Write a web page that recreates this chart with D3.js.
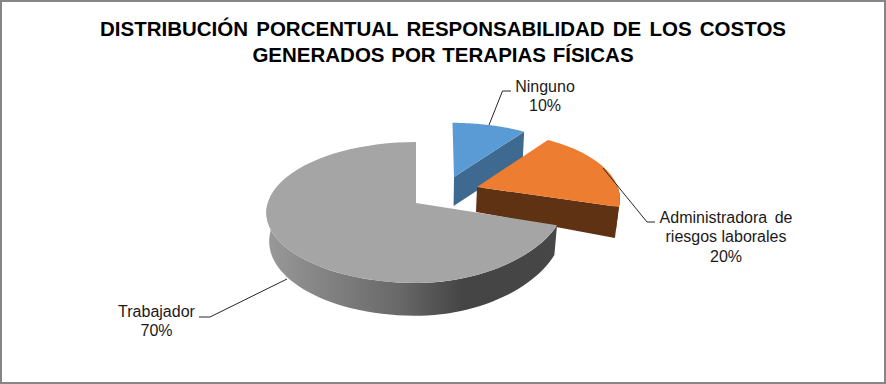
<!DOCTYPE html>
<html lang="en">
<head>
<meta charset="UTF-8">
<title>Distribucion porcentual</title>
<script src="https://d3js.org/d3.v7.min.js"></script>
<style>
    html, body { margin: 0; padding: 0; background: #fff; }
    svg { display: block; }
    text { font-family: "Liberation Sans", Arial, sans-serif; }
</style>
</head>
<body>
<svg width="886" height="384"></svg>
<script>
    const categories = ["Ninguno", "Administradora de riesgos laborales", "Trabajador"];
    const values = [10, 20, 70];
    const titleLines = ["DISTRIBUCIÓN PORCENTUAL RESPONSABILIDAD DE LOS COSTOS", "GENERADOS POR TERAPIAS FÍSICAS"];

    const topColors = ["#5b9bd5", "#ed7d31", "#a5a5a5"];
    const wallColors = ["#3e6a92", "#5f3213", "url(#grayWall)"];

    // each exploded slice has its own projection
    const views = [
        { top: { cx: 454, cy: 177, R: 141, b: 65, k: 0.2, sx: 1.5 }, bottom: { cx: 453.6, cy: 206, R: 139, b: 65, k: 0.2, sx: 1.5 } },
        { top: { cx: 477, cy: 187, R: 140, b: 66, k: 0.2, sy: -1.8 }, bottom: { cx: 476, cy: 212, R: 137, b: 84, k: 0.2, sy: -1.8 } },
        { top: { cx: 416, cy: 203, R: 148.3, b: 69.2, k: 0.135 }, bottom: { cx: 416, cy: 231.4, R: 145.5, b: 73, k: 0.135 } }
    ];

    const svg = d3.select("svg");

    const defs = svg.append("defs");
    const grad = defs.append("linearGradient").attr("id", "grayWall")
        .attr("gradientUnits", "userSpaceOnUse")
        .attr("x1", 267).attr("x2", 557).attr("y1", 0).attr("y2", 0);
    [[0, "#999"], [0.15, "#888"], [0.45, "#696969"], [0.68, "#444"], [1, "#474747"]].forEach(d => {
        grad.append("stop").attr("offset", d[0]).attr("stop-color", d[1]);
    });

    // frame
    svg.append("rect").attr("x", 1).attr("y", 1).attr("width", 884).attr("height", 382)
        .attr("fill", "#fff").attr("stroke", "#868686").attr("stroke-width", 2);

    // title
    svg.append("g").selectAll("text").data(titleLines).enter().append("text")
        .attr("x", 443)
        .attr("y", (d, i) => 36 + i * 26)
        .attr("text-anchor", "middle")
        .attr("font-size", 20.5)
        .attr("font-weight", "bold")
        .attr("fill", "#000")
        .attr("word-spacing", (d, i) => i == 0 ? 2.5 : 1)
        .text(d => d);

    const slices = d3.pie().sort(null)(values);

    function project(p, angle) {
        const u = Math.sin(angle), v = -Math.cos(angle);
        const s = 1 / (1 - p.k * v);
        // the left side of the big slice is wider than the right one
        const wide = p.k < 0.2 && u > 0 ? 1 : s;
        return [p.cx + p.R * u * wide + (p.sx || 0) * v, p.cy + p.b * v * s + (p.sy || 0) * u];
    }
    const line = d3.line();
    const arcAngles = (a0, a1) => d3.range(0, 61).map(i => a0 + (a1 - a0) * i / 60);

    function topPath(d, i) {
        const p = views[i].top;
        return line([[p.cx, p.cy], ...arcAngles(d.startAngle, d.endAngle).map(a => project(p, a))]) + "Z";
    }
    // outer wall, only the part of the rim facing the viewer
    function rimPath(d, i) {
        const a0 = Math.max(d.startAngle, Math.PI / 2), a1 = Math.min(d.endAngle, Math.PI * 1.5);
        if (a1 <= a0) return null;
        const v = views[i], as = arcAngles(a0, a1);
        return line([...as.map(a => project(v.top, a)), ...as.reverse().map(a => project(v.bottom, a))]) + "Z";
    }
    // cut face at the clockwise end of the slice
    function cutPath(d, i) {
        const v = views[i];
        return line([[v.top.cx, v.top.cy], project(v.top, d.endAngle), project(v.bottom, d.endAngle), [v.bottom.cx, v.bottom.cy]]) + "Z";
    }

    // back to front: blue, orange, gray
    slices.forEach((d, i) => {
        const g = svg.append("g").attr("class", "slice");
        if (i < 2) g.append("path").attr("d", cutPath(d, i)).attr("fill", wallColors[i]);
        const rim = rimPath(d, i);
        if (rim) g.append("path").attr("d", rim).attr("fill", wallColors[i]);
        g.append("path").attr("d", topPath(d, i)).attr("fill", topColors[i]);
    });

    // leader lines
    const leaders = [
        [[489, 125], [502.5, 91], [511, 91]],
        [[603, 168], [647, 222], [655, 222]],
        [[287, 279], [210, 317], [199, 317]]
    ];
    svg.append("g").selectAll("path").data(leaders).enter().append("path")
        .attr("d", d => line(d))
        .attr("fill", "none").attr("stroke", "#262626").attr("stroke-width", 1);

    // labels
    const labelSpots = [
        { x: 545, y: 92, lines: ["Ninguno"] },
        { x: 726, y: 223, lines: ["Administradora de", "riesgos laborales"] },
        { x: 156.5, y: 316.5, lines: ["Trabajador"] }
    ];
    labelSpots.forEach((l, i) => {
        svg.append("text")
            .attr("text-anchor", "middle")
            .attr("font-size", 16)
            .attr("fill", "#1a1a1a")
            .selectAll("tspan")
            .data([...l.lines, values[i] + "%"]).enter().append("tspan")
            .attr("x", l.x)
            .attr("y", (d, j) => l.y + j * 19.3)
            .attr("word-spacing", d => d == "Administradora de" ? 3 : 0)
            .text(d => d);
    });
</script>
</body>
</html>
